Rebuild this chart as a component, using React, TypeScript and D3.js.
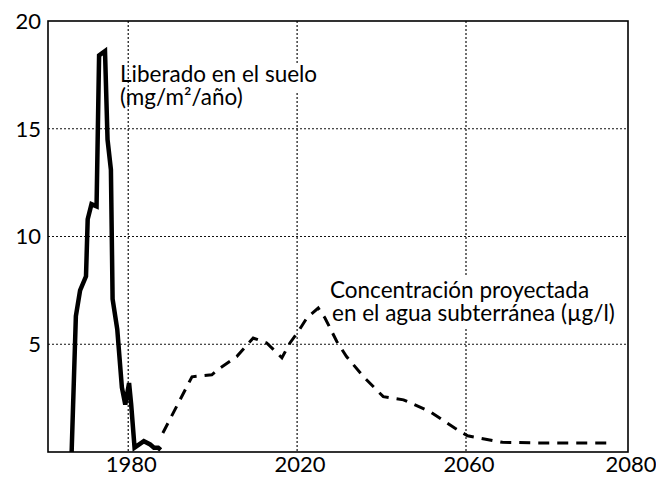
import React from 'react';
import * as d3 from 'd3';

// Solid line: released into soil (mg/m²/año)
const releaseYears = [1966.6, 1967.6, 1968.6, 1970.0, 1970.4, 1971.3, 1972.5, 1973.1, 1974.5, 1975.1, 1975.9, 1976.3, 1977.4, 1978.5, 1979.3, 1980.2, 1980.7, 1981.5, 1982.6, 1983.7, 1985.2, 1986.1, 1987.1, 1987.7];
const releaseValues = [0, 6.3, 7.5, 8.15, 10.8, 11.5, 11.4, 18.4, 18.6, 14.5, 13.1, 7.1, 5.7, 3.0, 2.2, 3.2, 2.2, 0.2, 0.35, 0.5, 0.35, 0.2, 0.2, 0.1];

// Dashed line: projected groundwater concentration (µg/l)
const concYears = [1988.2, 1995.1, 1999.8, 2001.7, 2005.7, 2009.6, 2012.8, 2016.4, 2018.3, 2020.3, 2022.3, 2025.0, 2026.6, 2029.4, 2031.7, 2035.7, 2040.4, 2045.2, 2051.5, 2057.4, 2060.2, 2064.5, 2068.8, 2077.6];
const concValues = [0.88, 3.49, 3.58, 3.89, 4.43, 5.29, 5.06, 4.37, 5.06, 5.6, 6.22, 6.68, 6.22, 5.13, 4.43, 3.5, 2.57, 2.42, 1.87, 1.1, 0.75, 0.45, 0.42, 0.42];

const xTickValues = [1980, 2020, 2060, 2080];
const xTickLabels = ['1980', '2020', '2060', '2080'];
const xGridValues = [1980, 2020, 2060];
const yTickValues = [5, 10, 15, 20];
const yGridValues = [5, 10, 15];

const releaseLabel = ['Liberado en el suelo', '(mg/m²/año)'];
const concLabel = ['Concentración proyectada', 'en el agua subterránea (µg/l)'];

const W = 656;
const H = 478;
const left = 48, right = 628, top = 21, bottom = 452;
const FONT = "Lato, 'Open Sans', sans-serif";

export default function App() {
  const x = d3.scaleLinear().domain([1961, 2060, 2080]).range([left, 466, right]);
  const y = d3.scaleLinear().domain([0, 20]).range([bottom, top]);

  const release = releaseYears.map((yr, i) => [yr, releaseValues[i]] as [number, number]);
  const conc = concYears.map((yr, i) => [yr, concValues[i]] as [number, number]);
  const line = d3.line<[number, number]>().x(d => x(d[0])).y(d => y(d[1]));

  return (
    <svg width={W} height={H} style={{ position: 'absolute', left: 0, top: 0, background: '#fff' }} fontFamily={FONT}>
      <rect x={0} y={0} width={W} height={H} fill="#fff" />
      {/* grid */}
      {yGridValues.map(v => (
        <line key={'gy' + v} x1={left} x2={right} y1={y(v)} y2={y(v)} stroke="#111" strokeWidth={1.2} strokeDasharray="2,2" />
      ))}
      {xGridValues.map(v => (
        <line key={'gx' + v} x1={x(v)} x2={x(v)} y1={top} y2={bottom} stroke="#111" strokeWidth={1.2} strokeDasharray="2,2" />
      ))}
      {/* label backgrounds */}
      <rect x={150} y={63} width={178} height={28} fill="#fff" />
      <rect x={334} y={277} width={292} height={51} fill="#fff" />
      {/* frame */}
      <rect x={left} y={top} width={right - left} height={bottom - top} fill="none" stroke="#000" strokeWidth={1.6} />
      {/* series */}
      <path d={line(conc) || ''} fill="none" stroke="#000" strokeWidth={3} strokeDasharray="11,8" />
      <path d={line(release) || ''} fill="none" stroke="#000" strokeWidth={4.5} strokeLinejoin="miter" strokeMiterlimit={3} />
      {/* y tick labels */}
      {yTickValues.map(v => (
        <text key={'yt' + v} x={41} y={y(v)} dy="0.36em" textAnchor="end" fontSize={22} fill="#000">{v}</text>
      ))}
      {/* x tick labels */}
      {xTickValues.map((v, i) => (
        <text key={'xt' + v} x={x(v) + 3} y={472} textAnchor="middle" fontSize={22} fill="#000">{xTickLabels[i]}</text>
      ))}
      {/* annotations */}
      <text fontSize={22.5} fill="#000">
        <tspan x={120} y={82}>{releaseLabel[0]}</tspan>
        <tspan x={120} y={105}>{releaseLabel[1]}</tspan>
      </text>
      <text fontSize={22.5} fill="#000">
        <tspan x={330} y={298}>{concLabel[0]}</tspan>
        <tspan x={332} y={321}>{concLabel[1]}</tspan>
      </text>
    </svg>
  );
}
